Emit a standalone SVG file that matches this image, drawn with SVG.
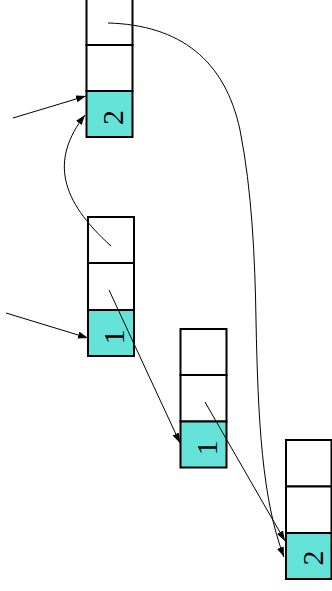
<svg xmlns="http://www.w3.org/2000/svg" width="332" height="591" viewBox="0 0 332 591">
  <style>
    .cell { fill: #ffffff; stroke: #000000; stroke-width: 2; }
    .key { fill: #66e3d9; stroke: #000000; stroke-width: 2; }
    .lbl { font-family: "Liberation Serif", "Times New Roman", serif; font-size: 30px; fill: #000000; text-anchor: middle; }
    .edge { fill: none; stroke: #000000; stroke-width: 1; marker-end: url(#head); }
  </style>
  <defs>
    <marker id="head" markerUnits="userSpaceOnUse" markerWidth="11" markerHeight="8" refX="10" refY="3.5" orient="auto">
      <path d="M0,0 L10,3.5 L0,7 z" fill="#000000"/>
    </marker>
  </defs>
  <rect width="332" height="591" fill="#ffffff"/>

  <g id="node-a">
    <rect class="cell" x="86.5" y="-1" width="46" height="46"/>
    <rect class="cell" x="86.5" y="45" width="46" height="46"/>
    <rect class="key" x="86.5" y="91" width="46" height="46"/>
    <text class="lbl" transform="translate(123,117.5) rotate(-90)">2</text>
  </g>

  <g id="node-b">
    <rect class="cell" x="88" y="217" width="46" height="46"/>
    <rect class="cell" x="88" y="263" width="46" height="47"/>
    <rect class="key" x="88" y="310" width="46" height="46"/>
    <text class="lbl" transform="translate(124.3,337) rotate(-90)">1</text>
  </g>

  <g id="node-c">
    <rect class="cell" x="180.5" y="329" width="46" height="46"/>
    <rect class="cell" x="180.5" y="375" width="46" height="46.5"/>
    <rect class="key" x="180.5" y="421.5" width="46" height="46"/>
    <text class="lbl" transform="translate(217,448) rotate(-90)">1</text>
  </g>

  <g id="node-d">
    <rect class="cell" x="286" y="440" width="45.5" height="46.5"/>
    <rect class="cell" x="286" y="486.5" width="45.5" height="46.5"/>
    <rect class="key" x="286" y="533" width="45.5" height="46"/>
    <text class="lbl" transform="translate(322.7,558) rotate(-90)">2</text>
  </g>

  <g id="edges">
    <path class="edge" d="M13,118 L86,96"/>
    <path class="edge" d="M111,246 C60,200 50,160 85,115"/>
    <path class="edge" d="M6,313 L88,338"/>
    <path class="edge" d="M109,290 L180,443"/>
    <path class="edge" d="M205,402 L285,541"/>
    <path class="edge" d="M108,23 C180,25 225,60 240,130 C252,190 255,260 256,320 C258,420 262,500 284,557"/>
  </g>
</svg>
